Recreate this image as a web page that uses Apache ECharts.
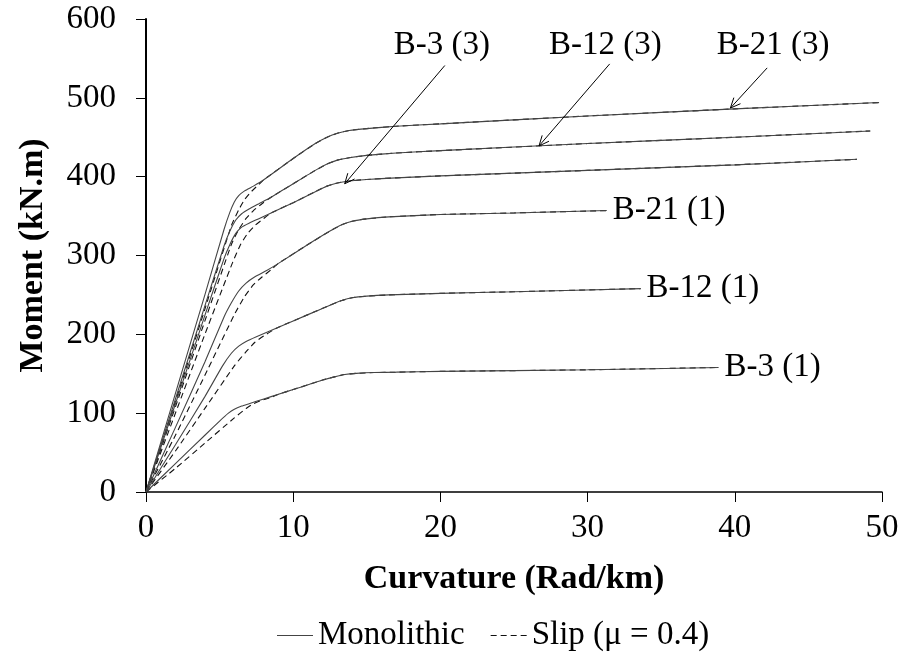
<!DOCTYPE html>
<html>
<head>
<meta charset="utf-8">
<script src="https://cdn.jsdelivr.net/npm/echarts@6/dist/echarts.min.js"></script>
<style>html,body{margin:0;padding:0;background:#fff}#c{width:905px;height:657px}</style>
</head>
<body>
<div id="c"></div>
<script>
// x ticks / y ticks
const xTicks = [0, 10, 20, 30, 40, 50];
const yTicks = [0, 100, 200, 300, 400, 500, 600];

// Monolithic (solid) curves: [curvature, moment]
const mono_B3_1  = [[0,0],[2,36],[4,72],[5,90],[5.6,100],[6,105],[6.5,109],[7,112],[8,118],[9,124],[10,130],[11,136],[12,142],[12.8,146],[13.5,149],[14.3,150.5],[15.5,151.5],[17,152],[20,153],[30,155],[38.9,158]];
const mono_B12_1 = [[0,0],[2,60],[4,121],[5.2,160],[5.8,176],[6.3,185],[6.8,191],[7.5,197],[9,209],[11,225],[12.5,237],[13.3,243],[14,246.5],[15,248.5],[16.5,250],[20,252],[25,254],[33.6,258]];
const mono_B21_1 = [[0,0],[2,82],[4,165],[5.3,222],[5.8,240],[6.3,255],[6.8,265],[7.4,273],[8.2,281],[9,290],[11,314],[12.5,331],[13.3,339],[14,343.5],[15,346.5],[16.5,349],[20,352],[25,354],[31.3,357]];
const mono_B3_3  = [[0,0],[2,112],[4,224],[5.3,296],[5.7,314],[6.1,328],[6.5,336],[7,341],[7.7,347],[8.5,354],[10,367],[11.5,381],[12.3,388],[13,392],[13.8,394.5],[15,396.5],[17,398.5],[20,401],[30,408],[40,415],[48.3,422]];
const mono_B12_3 = [[0,0],[2,118],[4,236],[5.3,312],[5.7,331],[6.1,345],[6.5,353],[7,359],[7.7,366],[8.5,374],[10,391],[11.5,408],[12.3,416],[13,421],[13.8,424],[15,427],[17,430],[20,433],[30,442],[40,450],[49.2,458]];
const mono_B21_3 = [[0,0],[2,125],[4,250],[5.3,333],[5.7,355],[6,368],[6.3,376],[6.7,382],[7.3,388],[8,396],[10,423],[11.5,442],[12.3,450],[13,455],[13.8,458.5],[15,461],[17,464],[20,467],[30,477],[40,486],[49.8,494]];

// Slip (dashed) curves
const slip_B3_1  = [[0,0],[2,30],[4,62],[6,94],[6.8,106],[7.3,112],[7.8,116],[8.5,120],[9,124],[10,130],[11,136],[12,142],[12.8,146],[13.5,149],[14.3,150.5],[15.5,151.5],[17,152],[20,153],[30,155],[38.9,158]];
const slip_B12_1 = [[0,0],[2,52],[4,106],[6,160],[6.8,178],[7.4,190],[8,198],[8.6,205],[9,209],[11,225],[12.5,237],[13.3,243],[14,246.5],[15,248.5],[16.5,250],[20,252],[25,254],[33.6,258]];
const slip_B21_1 = [[0,0],[2,72],[4,148],[6,225],[6.7,248],[7.3,263],[7.9,273],[8.5,282],[9,290],[11,314],[12.5,331],[13.3,339],[14,343.5],[15,346.5],[16.5,349],[20,352],[25,354],[31.3,357]];
const slip_B3_3  = [[0,0],[2,100],[4,200],[5.9,292],[6.4,313],[6.9,328],[7.4,338],[8,347],[8.5,354],[10,367],[11.5,381],[12.3,388],[13,392],[13.8,394.5],[15,396.5],[17,398.5],[20,401],[30,408],[40,415],[48.3,422]];
const slip_B12_3 = [[0,0],[2,108],[4,217],[5.8,314],[6.3,333],[6.8,347],[7.3,357],[7.9,366],[8.5,374],[10,391],[11.5,408],[12.3,416],[13,421],[13.8,424],[15,427],[17,430],[20,433],[30,442],[40,450],[49.2,458]];
const slip_B21_3 = [[0,0],[2,115],[4,232],[5.8,338],[6.3,358],[6.7,371],[7.1,380],[7.6,389],[8,396],[10,423],[11.5,442],[12.3,450],[13,455],[13.8,458.5],[15,461],[17,464],[20,467],[30,477],[40,486],[49.8,494]];

// annotation texts (top group) and arrows
const topLabels = [[20.1, 566, 'B-3 (3)'], [31.2, 566, 'B-12 (3)'], [42.6, 566, 'B-21 (3)']];
const arrows = [[20.3, 541, 13.5, 391], [31.5, 543, 26.7, 439], [42.2, 538, 39.7, 487]];
const endNames = {B3_1: 'B-3 (1)', B12_1: 'B-12 (1)', B21_1: 'B-21 (1)'};

const FONT = '"Liberation Serif", "Times New Roman", serif';
const MONO = 'Monolithic', SLIP = 'Slip (\u03bc = 0.4)';

function solid(data, endName) {
  const s = {
    name: MONO, type: 'line', data: data, symbol: 'none', showSymbol: false,
    smooth: 0.15,
    lineStyle: {color: '#444', width: 1.1, type: 'solid'}, itemStyle: {color: '#444'},
    z: 3
  };
  if (endName) {
    s.endLabel = {show: true, formatter: endName, fontFamily: FONT, fontSize: 33, color: '#000', distance: 6};
  }
  return s;
}
function dashed(data) {
  return {
    name: SLIP, type: 'line', data: data, symbol: 'none', showSymbol: false,
    smooth: 0.15,
    lineStyle: {color: '#111', width: 1.1, type: [6, 4]}, itemStyle: {color: '#111'},
    z: 2
  };
}

const chart = echarts.init(document.getElementById('c'));
chart.setOption({
  animation: false,
  backgroundColor: '#fff',
  textStyle: {fontFamily: FONT},
  grid: {left: 146, right: 23, top: 19, bottom: 165, containLabel: false},
  legend: {
    show: true, orient: 'horizontal',
    data: [
      {name: MONO, icon: 'path://M0,0h36v1h-36z'},
      {name: SLIP, icon: 'path://M0,0h6v1h-6zM10,0h6v1h-6zM20,0h6v1h-6zM30,0h6v1h-6z'}
    ],
    left: 272, top: 614, itemWidth: 36, itemHeight: 1.3, itemGap: 26,
    textStyle: {fontFamily: FONT, fontSize: 33, color: '#000'}
  },
  xAxis: {
    type: 'value', min: 0, max: 50, interval: 10,
    name: 'Curvature (Rad/km)', nameLocation: 'middle', nameGap: 70,
    nameTextStyle: {fontFamily: FONT, fontSize: 34, fontWeight: 'bold', color: '#000'},
    axisLine: {show: true, onZero: false, lineStyle: {color: '#000', width: 1.5}},
    axisTick: {show: true, inside: false, length: 10, lineStyle: {color: '#000', width: 1}},
    axisLabel: {fontFamily: FONT, fontSize: 33, color: '#000', margin: 20,
      formatter: v => xTicks.includes(v) ? String(v) : ''},
    splitLine: {show: false}
  },
  yAxis: {
    type: 'value', min: 0, max: 600, interval: 100,
    name: 'Moment (kN.m)', nameLocation: 'middle', nameGap: 96,
    nameTextStyle: {fontFamily: FONT, fontSize: 34, fontWeight: 'bold', color: '#000'},
    axisLine: {show: true, onZero: false, lineStyle: {color: '#000', width: 2}},
    axisTick: {show: true, inside: false, length: 10, lineStyle: {color: '#000', width: 1}},
    axisLabel: {fontFamily: FONT, fontSize: 33, color: '#000', margin: 30,
      formatter: v => yTicks.includes(v) ? String(v) : ''},
    splitLine: {show: false}
  },
  series: [
    dashed(slip_B3_1), dashed(slip_B12_1), dashed(slip_B21_1),
    dashed(slip_B3_3), dashed(slip_B12_3), dashed(slip_B21_3),
    solid(mono_B3_1, endNames.B3_1), solid(mono_B12_1, endNames.B12_1), solid(mono_B21_1, endNames.B21_1),
    solid(mono_B3_3), solid(mono_B12_3), solid(mono_B21_3),
    {
      type: 'custom', name: 'arrows', data: arrows, clip: false, silent: true, z: 5,
      renderItem: function (params, api) {
        const p1 = api.coord([api.value(0), api.value(1)]);
        const p2 = api.coord([api.value(2), api.value(3)]);
        const ang = Math.atan2(p2[1] - p1[1], p2[0] - p1[0]);
        const L = 11, a = 0.42;
        const h1 = [p2[0] - L * Math.cos(ang - a), p2[1] - L * Math.sin(ang - a)];
        const h2 = [p2[0] - L * Math.cos(ang + a), p2[1] - L * Math.sin(ang + a)];
        return {
          type: 'group', children: [
            {type: 'line', shape: {x1: p1[0], y1: p1[1], x2: p2[0], y2: p2[1]}, style: {stroke: '#000', lineWidth: 1}},
            {type: 'polyline', shape: {points: [h1, p2, h2]}, style: {stroke: '#000', fill: null, lineWidth: 1}}
          ]
        };
      }
    },
    {
      type: 'custom', name: 'topLabels', data: topLabels, clip: false, silent: true, z: 5,
      renderItem: function (params, api) {
        const p = api.coord([api.value(0), api.value(1)]);
        return {
          type: 'text', x: p[0], y: p[1],
          style: {text: topLabels[params.dataIndex][2], fontFamily: FONT, fontSize: 33, fill: '#000', align: 'center', verticalAlign: 'middle'}
        };
      }
    }
  ]
});
</script>
</body>
</html>
